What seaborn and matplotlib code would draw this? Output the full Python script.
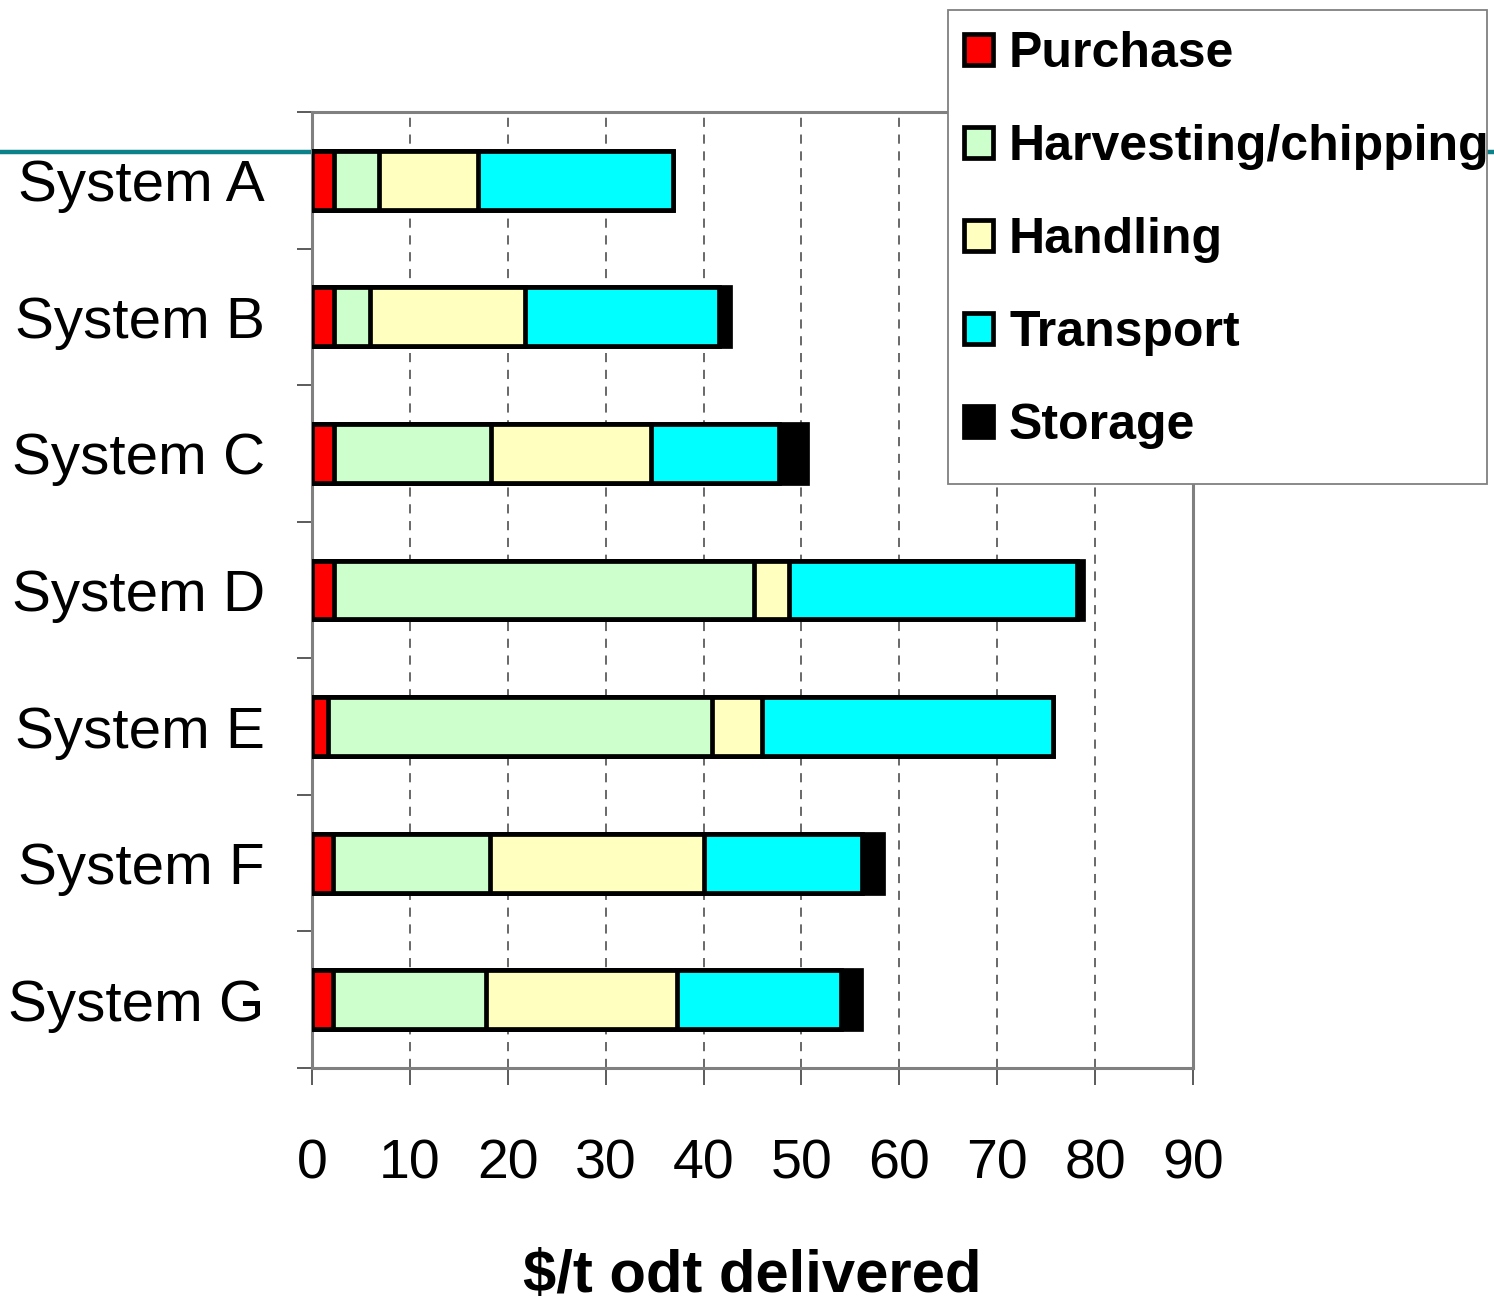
import numpy as np
import pandas as pd
import matplotlib
matplotlib.use("Agg")
import matplotlib.pyplot as plt
from matplotlib.lines import Line2D
from matplotlib.patches import Rectangle
import seaborn as sns

# Delivered cost breakdown per supply system ($/t oven-dry tonne)
systems = ["System A", "System B", "System C", "System D", "System E", "System F", "System G"]
purchase = [2.2, 2.2, 2.2, 2.2, 1.6, 2.1, 2.1]
harvesting = [4.6, 3.7, 16.1, 43.0, 39.3, 16.1, 15.7]
handling = [10.2, 15.9, 16.3, 3.5, 5.1, 21.8, 19.5]
transport = [19.9, 19.8, 13.1, 29.4, 29.7, 16.2, 16.7]
storage = [0.0, 1.1, 2.9, 0.7, 0.0, 2.1, 2.1]

components = ["Purchase", "Harvesting/chipping", "Handling", "Transport", "Storage"]
colors = ["#FF0000", "#CCFFCC", "#FFFFC0", "#00FFFF", "#000000"]
x_ticks = [0, 10, 20, 30, 40, 50, 60, 70, 80, 90]

df = pd.DataFrame({"System": systems, "Purchase": purchase,
                   "Harvesting/chipping": harvesting, "Handling": handling,
                   "Transport": transport, "Storage": storage})
cum = df[components].cumsum(axis=1)
cum.insert(0, "System", df["System"])

sns.set_theme(style="white")
plt.rcParams["font.family"] = ["Liberation Sans", "DejaVu Sans"]
for key in ["text.color", "axes.labelcolor", "xtick.color", "ytick.color"]:
    plt.rcParams[key] = "black"

W, H = 1494, 1303
fig = plt.figure(figsize=(W / 100, H / 100), dpi=100)
fig.patch.set_facecolor("white")

# decorative teal rule running across the slide
fig.add_artist(Line2D([0, 1], [1 - 152 / H] * 2, transform=fig.transFigure,
                      color="#0B8189", lw=3.2, zorder=0))

ax = fig.add_axes([312 / W, 1 - 1068 / H, (1193 - 312) / W, (1068 - 112) / H])
ax.set_facecolor("white")
ax.set_zorder(1)

# stacked bars: draw cumulative totals from the outermost segment inwards
for name, col in reversed(list(zip(components, colors))):
    sns.barplot(data=cum, x=name, y="System", orient="h", color=col,
                saturation=1, edgecolor="black", linewidth=3.4, width=0.43,
                errorbar=None, label=name, ax=ax, zorder=3)

ax.set_xlim(0, 90)
ax.set_ylim(6.5, -0.5)
ax.set_xticks(x_ticks)
ax.set_xticklabels([str(t) for t in x_ticks], fontsize=40)
ax.set_yticks(range(len(systems)))
ax.set_yticklabels(systems, fontsize=42)
ax.set_yticks(np.arange(-0.5, len(systems), 1.0), minor=True)
ax.tick_params(axis="y", which="major", length=0, pad=34, labelcolor="black")
ax.tick_params(axis="y", which="minor", length=11, width=1.2, color="#404040", left=True)
ax.tick_params(axis="x", which="major", length=12, width=1.2, color="#404040",
               direction="out", bottom=True, pad=39, labelcolor="black")
ax.set_ylabel("")
ax.set_xlabel("$/t odt delivered", fontsize=43, fontweight="bold", labelpad=42,
              color="black")

ax.set_axisbelow(True)
for x in x_ticks[1:-1]:
    ax.axvline(x, color="#404040", lw=1.1, ls=(0, (6, 5)), zorder=0)

for side in ["top", "right", "bottom", "left"]:
    ax.spines[side].set_visible(True)
    ax.spines[side].set_color("#808080")
    ax.spines[side].set_linewidth(2.2)

if ax.get_legend() is not None:
    ax.get_legend().remove()

# legend box outline
fig.add_artist(Rectangle((948 / W, 1 - 484 / H), (1487 - 948) / W, (484 - 10) / H,
                         transform=fig.transFigure, facecolor="white",
                         edgecolor="#808080", lw=1.3, zorder=4))

handles, labels = ax.get_legend_handles_labels()
order = [labels.index(c) for c in components]
leg = fig.legend([handles[i] for i in order], [labels[i] for i in order],
                 loc="upper left", bbox_to_anchor=(964 / W, 1 - 31 / H),
                 prop={"family": "Liberation Sans", "weight": "bold", "size": 36},
                 frameon=False, handlelength=0.57, handleheight=0.57,
                 handletextpad=0.33, labelspacing=0.94, borderpad=0,
                 borderaxespad=0, labelcolor="black")
leg.set_zorder(5)

fig.savefig("out.png", dpi=100, facecolor="white")
